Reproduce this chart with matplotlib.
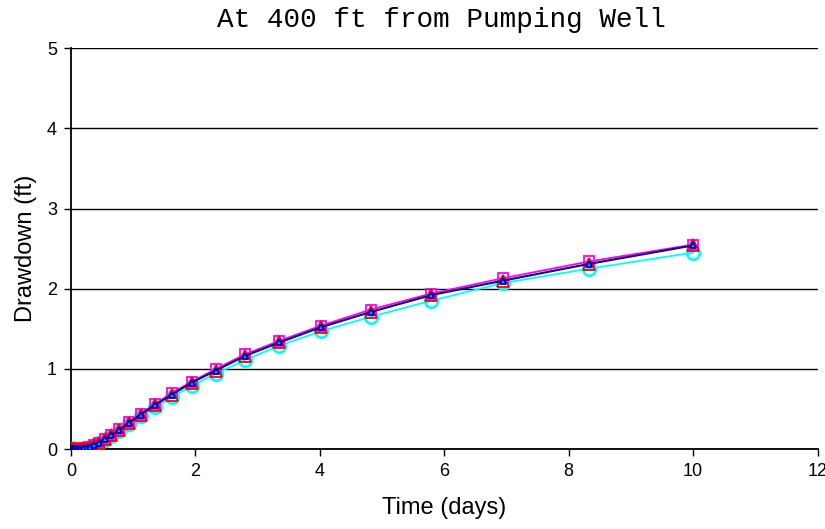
import matplotlib
matplotlib.use("Agg")
import matplotlib.pyplot as plt

# Time (days), log-spaced observation times
time = [0.010, 0.013, 0.016, 0.020, 0.025, 0.030, 0.036, 0.044, 0.052, 0.061, 0.073,
        0.087, 0.105, 0.126, 0.151, 0.181, 0.217, 0.260, 0.313, 0.376, 0.451,
        0.541, 0.649, 0.779, 0.935, 1.12, 1.35, 1.62, 1.94, 2.33, 2.79,
        3.35, 4.02, 4.82, 5.79, 6.94, 8.33, 10.0]

# Drawdown (ft) for the four solutions
dd_cyan = [0, 0, 0, 0, 0, 0, 0, 0, 0, 0, 0,
           0, 0, 0.001, 0.002, 0.004, 0.008, 0.015, 0.028, 0.047, 0.075,
           0.11, 0.16, 0.23, 0.31, 0.41, 0.52, 0.65, 0.79, 0.94, 1.11,
           1.29, 1.47, 1.65, 1.85, 2.07, 2.25, 2.45]
dd_magenta = [0, 0, 0, 0, 0, 0, 0, 0, 0, 0, 0,
              0, 0, 0.001, 0.002, 0.004, 0.009, 0.017, 0.031, 0.052, 0.082,
              0.12, 0.18, 0.25, 0.34, 0.44, 0.56, 0.70, 0.84, 1.00, 1.18,
              1.35, 1.54, 1.74, 1.94, 2.13, 2.34, 2.55]
dd_red = [0, 0, 0, 0, 0, 0, 0, 0, 0, 0, 0,
          0, 0, 0.001, 0.002, 0.004, 0.008, 0.016, 0.030, 0.050, 0.080,
          0.12, 0.17, 0.24, 0.33, 0.43, 0.55, 0.68, 0.83, 0.98, 1.16,
          1.33, 1.52, 1.71, 1.92, 2.10, 2.31, 2.54]
dd_navy = [0, 0, 0, 0, 0, 0, 0, 0, 0, 0, 0,
           0, 0, 0.001, 0.002, 0.004, 0.008, 0.016, 0.030, 0.050, 0.080,
           0.12, 0.17, 0.24, 0.33, 0.43, 0.55, 0.68, 0.83, 0.98, 1.16,
           1.33, 1.52, 1.71, 1.92, 2.10, 2.31, 2.54]

fig = plt.figure(figsize=(8.25, 5.29), dpi=100)
ax = fig.add_axes([0.086, 0.151, 0.905, 0.758])

ax.plot(time, dd_cyan, color="#00ffff", lw=1.3, marker="o", ms=9, mfc="none",
        mec="#00ffff", mew=2, zorder=3)
ax.plot(time, dd_magenta, color="#ff00ff", lw=1.3, marker="s", ms=7, mfc="none",
        mec="#ff00ff", mew=1.3, zorder=4)
ax.plot(time, dd_red, color="none", marker="^", ms=8, mfc="none",
        mec="#ff0000", mew=1.3, zorder=5)
ax.plot(time, dd_navy, color="#1a0070", lw=1.5, marker="^", ms=5, mfc="#00b0ff",
        mec="#0000cc", mew=1.3, zorder=6)

ax.set_xlim(0, 12)
ax.set_ylim(0, 5)
ax.set_xticks(range(0, 13, 2))
ax.set_yticks(range(0, 6))
ax.grid(True, axis="y", color="black", lw=1)
ax.set_axisbelow(True)
for s in ["top", "right"]:
    ax.spines[s].set_visible(False)
for s in ["left", "bottom"]:
    ax.spines[s].set_linewidth(1.3)
ax.tick_params(direction="out", length=5, width=1, labelsize=13, pad=5)
for lab in ax.get_xticklabels() + ax.get_yticklabels():
    lab.set_family("Liberation Sans")
    lab.set_clip_on(False)

ax.set_xlabel("Time (days)", fontsize=17, family="Liberation Sans", labelpad=12)
ax.set_ylabel("Drawdown (ft)", fontsize=17, family="Liberation Sans", labelpad=7)
fig.text(0.535, 0.963, "At 400 ft from Pumping Well", ha="center", va="center",
         fontsize=20, family="Liberation Mono")

plt.savefig("out.png", dpi=100)
